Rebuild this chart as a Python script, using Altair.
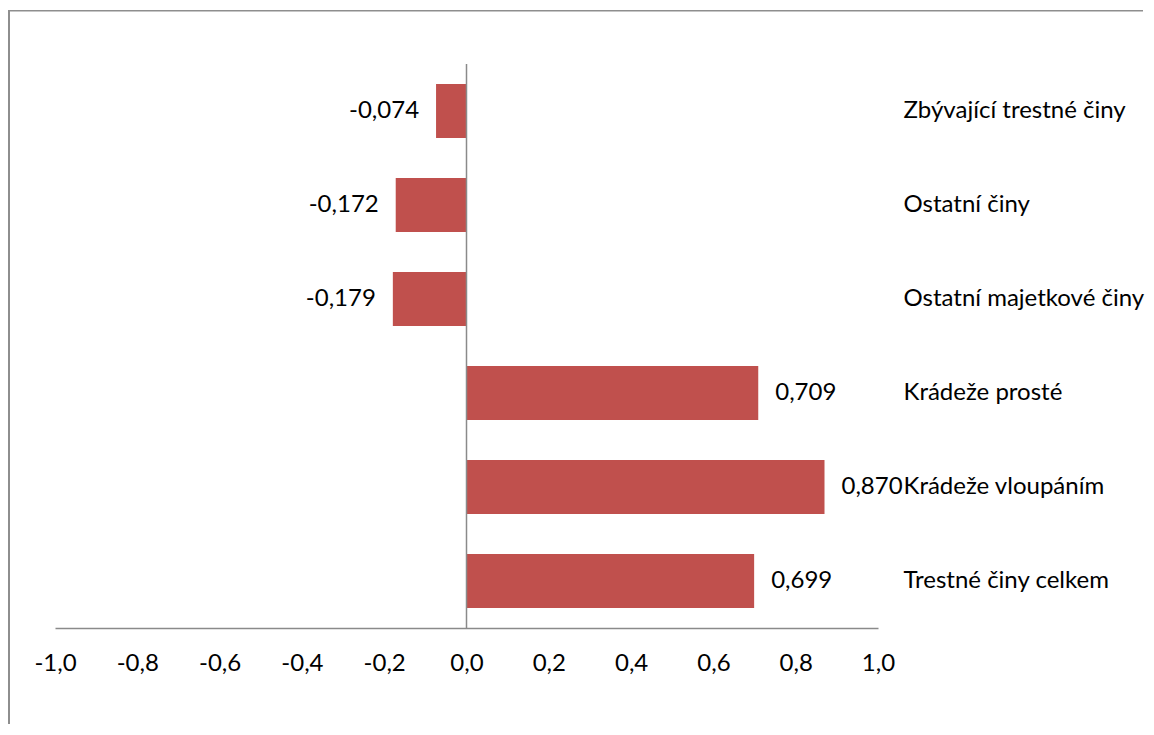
import altair as alt
import pandas as pd

categories = ["Zbývající trestné činy", "Ostatní činy", "Ostatní majetkové činy",
              "Krádeže prosté", "Krádeže vloupáním", "Trestné činy celkem"]
values = [-0.074, -0.172, -0.179, 0.709, 0.870, 0.699]
x_ticks = [-1.0, -0.8, -0.6, -0.4, -0.2, 0.0, 0.2, 0.4, 0.6, 0.8, 1.0]

df = pd.DataFrame({"cat": categories, "val": values})
df["label"] = [f"{v:.3f}".replace(".", ",") for v in values]

FONT = "Lato"
FS = 24
BAR = "#C0504D"
GRAY = "#8a8a8a"
FRAME = "#8e8e8e"

W, H = 823, 564
PAD_L, PAD_T = 47, 56
TOTAL_W, TOTAL_H = 1138, 719

yscale = alt.Scale(domain=categories, paddingInner=0.425, paddingOuter=0.2125)
xscale = alt.Scale(domain=[-1, 1], nice=False, zero=False)

bars = alt.Chart(df).mark_bar(color=BAR).encode(
    x=alt.X("val:Q", scale=xscale,
            axis=alt.Axis(values=x_ticks, title=None, grid=False, ticks=False,
                          domainColor=GRAY, domainWidth=1.5,
                          labelExpr="replace(replace(format(datum.value, '.1f'), '.', ','), '\u2212', '-')",
                          labelFont=FONT, labelFontSize=FS, labelColor="#000000",
                          labelBaseline="middle", labelPadding=35, labelFlush=False,
                          labelOverlap=False)),
    x2=alt.datum(0),
    y=alt.Y("cat:N", scale=yscale, sort=categories,
            axis=alt.Axis(orient="right", title=None, domain=False, ticks=False,
                          labelFont=FONT, labelFontSize=FS, labelColor="#000000",
                          labelPadding=25, labelAlign="left", labelLimit=400)),
)

neg = alt.Chart(df).transform_filter("datum.val < 0").mark_text(
    align="right", baseline="middle", dx=-17, font=FONT, fontSize=FS, color="#000000"
).encode(x=alt.X("val:Q", scale=xscale), y=alt.Y("cat:N", scale=yscale, sort=categories), text="label:N")

pos = alt.Chart(df).transform_filter("datum.val >= 0").mark_text(
    align="left", baseline="middle", dx=17, font=FONT, fontSize=FS, color="#000000"
).encode(x=alt.X("val:Q", scale=xscale), y=alt.Y("cat:N", scale=yscale, sort=categories), text="label:N")

zero = alt.Chart(pd.DataFrame({"z": [0.0]})).mark_rule(color=GRAY, strokeWidth=1.5).encode(
    x=alt.X("z:Q", scale=xscale), y=alt.value(0), y2=alt.value(H)
)

one = pd.DataFrame({"a": [0]})
frame_top = alt.Chart(one).mark_rect(color=FRAME, strokeWidth=0).encode(
    x=alt.value(-PAD_L), x2=alt.value(TOTAL_W - PAD_L - 3), y=alt.value(-54), y2=alt.value(-52.5)
)
frame_left = alt.Chart(one).mark_rect(color=FRAME, strokeWidth=0).encode(
    x=alt.value(-PAD_L), x2=alt.value(-PAD_L + 2), y=alt.value(-54), y2=alt.value(TOTAL_H - PAD_T - 3)
)

chart = alt.layer(frame_top, frame_left, bars, zero, neg, pos).properties(
    width=W, height=H,
    background="white",
    autosize=alt.AutoSizeParams(type="none"),
    padding={"left": PAD_L, "top": PAD_T, "right": TOTAL_W - PAD_L - W, "bottom": TOTAL_H - PAD_T - H},
).configure_view(strokeWidth=0)

chart.save("out.html", embed_options={"renderer": "svg", "actions": False})
